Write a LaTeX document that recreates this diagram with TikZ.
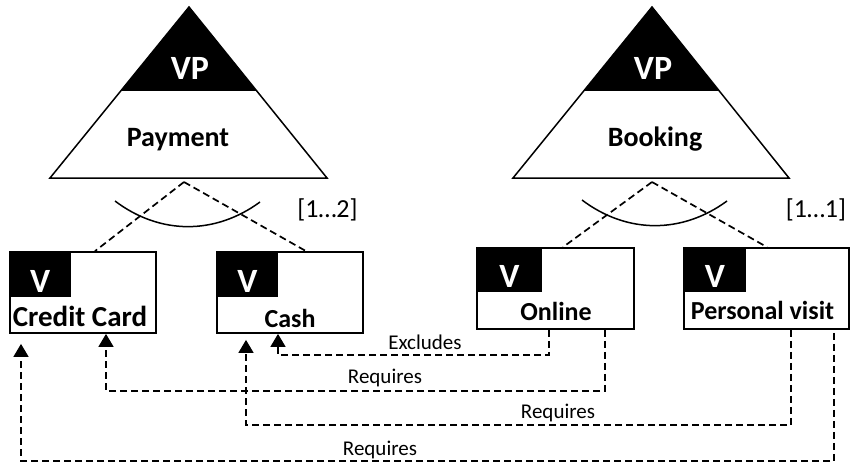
\documentclass[tikz,border=0pt]{standalone}
\usepackage{fontspec}
\setmainfont{Carlito}
\usetikzlibrary{arrows.meta,calc}
\begin{document}
\begin{tikzpicture}[x=1pt,y=-1pt,
  vbox/.style={draw, line width=1.8pt, minimum width=#1, minimum height=81pt, inner sep=0pt},
  blk/.style={fill=black, inner sep=0pt, anchor=north west, minimum height=#1},
  vlet/.style={font=\fontsize{34}{34}\selectfont\bfseries, text=white, inner sep=0pt, anchor=base},
  lbl/.style={font=\fontsize{#1}{#1}\selectfont\bfseries, inner sep=0pt, anchor=base},
  rel/.style={font=\fontsize{21}{21}\selectfont, inner sep=0pt, anchor=base},
  card/.style={font=\fontsize{26}{26}\selectfont, inner sep=0pt, anchor=base},
  dsh/.style={dashed, dash pattern=on 7pt off 4pt, line width=1.7pt},
  arr/.style={dsh, -{Triangle[length=13pt,width=15pt]}},
  tri/.style={draw, line width=1.5pt, line join=miter},
  arcline/.style={line width=1.5pt}]

\fill[white] (0,0) rectangle (853,466);
\useasboundingbox (0,0) rectangle (853,466);

% ---- Payment triangle
\begin{scope}
  \clip (189,7) -- (50,178) -- (327,178) -- cycle;
  \fill[black] (0,0) rectangle (400,91);
\end{scope}
\draw[tri] (189,7) -- (50,178) -- (327,178) -- cycle;
\node[vlet] (vp1) at (190,79) {VP};
\node[lbl=28] (payment) at (178,146) {Payment};
\coordinate (payapex) at (184,182);

% ---- Booking triangle
\begin{scope}
  \clip (652,7) -- (513,178) -- (789,178) -- cycle;
  \fill[black] (450,0) rectangle (853,91);
\end{scope}
\draw[tri] (652,7) -- (513,178) -- (789,178) -- cycle;
\node[vlet] (vp2) at (653,79) {VP};
\node[lbl=28] (booking) at (655,146) {Booking};
\coordinate (bookapex) at (652,182);

% ---- variant boxes
\node[vbox=146pt] (cc) at (83,292.5) {};
\node[blk=46pt, minimum width=62pt] (ccb) at (cc.north west) {};
\node[vlet] (ccv) at ($(ccb.south)+(0,-5)$) {V};
\node[lbl=29] (cct) at (80,326) {Credit Card};

\node[vbox=146pt] (cash) at (290,292.5) {};
\node[blk=46pt, minimum width=62pt] (cashb) at (cash.north west) {};
\node[vlet] (cashv) at ($(cashb.south)+(0,-5)$) {V};
\node[lbl=26] (casht) at (290,327) {Cash};

\node[vbox=157pt] (online) at (555.5,288.5) {};
\node[blk=45pt, minimum width=66pt] (onlineb) at (online.north west) {};
\node[vlet] (onlinev) at ($(onlineb.south)+(0,-5)$) {V};
\node[lbl=26] (onlinet) at (556,320) {Online};

\node[vbox=165pt] (visit) at (766.5,288.5) {};
\node[blk=45pt, minimum width=63pt] (visitb) at (visit.north west) {};
\node[vlet] (visitv) at ($(visitb.south)+(0,-5)$) {V};
\node[lbl=26] (visitt) at (762.5,319) {Personal visit};

% ---- decomposition lines and arcs
\draw[dsh] (payapex) -- ([xshift=12pt]cc.north);
\draw[dsh] (payapex) -- ([xshift=16pt]cash.north);
\draw[dsh] (bookapex) -- ([xshift=7.5pt]online.north);
\draw[dsh] (bookapex) -- ([xshift=0.5pt]visit.north);
\draw[arcline] (115,201) .. controls (160,235) and (215,235) .. (260,202);
\draw[arcline] (582,200) .. controls (627,234) and (682,234) .. (727,201);
\node[card] (card1) at (327.5,217) {[1…2]};
\node[card] (card2) at (816,217) {[1…1]};

% ---- dependencies
\draw[arr] ([xshift=-6.5pt]online.south) -- ++(0,25) -| ([xshift=-12pt]cash.south);
\draw[arr] ([xshift=49.5pt]online.south) -- ++(0,61) -| ([xshift=23pt]cc.south);
\draw[arr] ([xshift=24.5pt]visit.south) -- ++(0,95) -| ([xshift=-44pt,yshift=-6pt]cash.south);
\draw[arr] ([xshift=67.5pt,yshift=-3pt]visit.south) -- ++(0,128) -| ([xshift=-62pt,yshift=-10pt]cc.south);
\node[rel] (exl) at (425,349) {Excludes};
\node[rel] (rq1) at (385,383) {Requires};
\node[rel] (rq2) at (558,418) {Requires};
\node[rel] (rq3) at (380,455) {Requires};
\end{tikzpicture}
\end{document}
